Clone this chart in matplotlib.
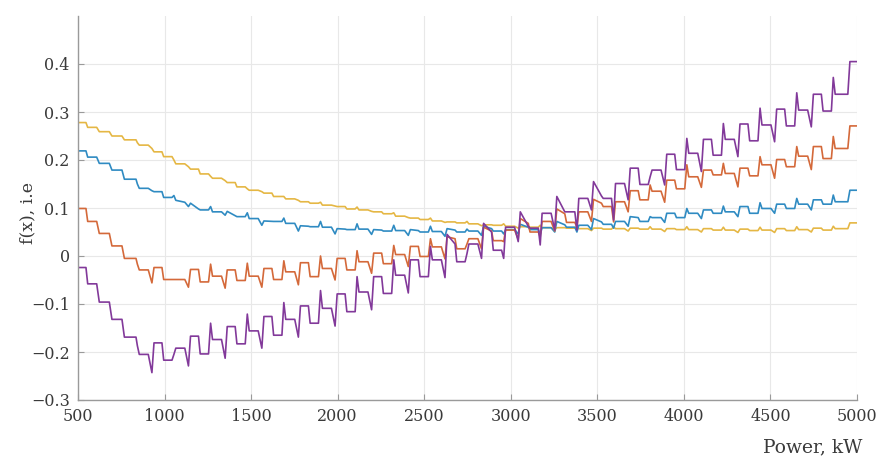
import matplotlib
matplotlib.use('Agg')
import matplotlib.pyplot as plt

plt.rcParams['font.family'] = 'DejaVu Serif'
plt.rcParams['axes.unicode_minus'] = True

# shared break points of the staircase curves (kW)
power_kw = [
    500, 546, 556, 608, 623, 681, 696, 754, 768, 835,
    843, 854, 906, 927, 939, 985, 995, 1043,
    1054, 1065, 1117, 1138, 1150, 1196, 1206, 1254,
    1266, 1277, 1329, 1350, 1362, 1408, 1418, 1466,
    1478, 1489, 1541, 1562, 1574, 1620, 1630, 1678,
    1689, 1700, 1752, 1773, 1785, 1831, 1841, 1889,
    1901, 1912, 1964, 1985, 1997, 2043, 2053, 2101,
    2112, 2123, 2175, 2196, 2208, 2254, 2264, 2312,
    2324, 2335, 2387, 2408, 2420, 2466, 2476, 2524,
    2536, 2547, 2599, 2620, 2632, 2678, 2688, 2736,
    2747, 2758, 2810, 2831, 2843, 2889, 2899, 2947,
    2959, 2970, 3022, 3043, 3055, 3101, 3111, 3159,
    3170, 3181, 3233, 3254, 3266, 3312, 3322, 3370,
    3382, 3393, 3445, 3466, 3478, 3524, 3534, 3582,
    3594, 3605, 3657, 3678, 3690, 3736, 3746, 3794,
    3805, 3816, 3868, 3889, 3901, 3947, 3957, 4005,
    4017, 4028, 4080, 4101, 4113, 4159, 4169, 4217,
    4228, 4239, 4291, 4312, 4324, 4370, 4380, 4428,
    4440, 4451, 4503, 4524, 4536, 4582, 4592, 4640,
    4652, 4663, 4715, 4736, 4748, 4794, 4804, 4852,
    4863, 4874, 4926, 4947, 4959, 5000,
]

fx_yellow = [
    0.278, 0.278, 0.268, 0.268, 0.259, 0.259, 0.250, 0.250, 0.242, 0.242,
    0.236, 0.231, 0.231, 0.224, 0.217, 0.217, 0.207, 0.207,
    0.200, 0.192, 0.192, 0.186, 0.181, 0.181, 0.171, 0.171,
    0.166, 0.162, 0.162, 0.157, 0.153, 0.153, 0.144, 0.144,
    0.140, 0.137, 0.137, 0.134, 0.131, 0.131, 0.124, 0.124,
    0.124, 0.119, 0.119, 0.116, 0.113, 0.113, 0.110, 0.110,
    0.112, 0.106, 0.106, 0.104, 0.103, 0.103, 0.098, 0.098,
    0.102, 0.096, 0.096, 0.093, 0.092, 0.092, 0.088, 0.088,
    0.090, 0.083, 0.083, 0.080, 0.079, 0.079, 0.076, 0.076,
    0.079, 0.073, 0.073, 0.070, 0.071, 0.071, 0.069, 0.069,
    0.072, 0.067, 0.067, 0.063, 0.065, 0.065, 0.064, 0.064,
    0.067, 0.062, 0.062, 0.058, 0.061, 0.061, 0.060, 0.060,
    0.064, 0.059, 0.059, 0.055, 0.059, 0.059, 0.058, 0.058,
    0.062, 0.057, 0.057, 0.053, 0.058, 0.058, 0.056, 0.056,
    0.061, 0.057, 0.057, 0.052, 0.058, 0.058, 0.056, 0.056,
    0.061, 0.056, 0.056, 0.051, 0.057, 0.057, 0.055, 0.055,
    0.061, 0.055, 0.055, 0.050, 0.057, 0.057, 0.054, 0.054,
    0.060, 0.054, 0.054, 0.049, 0.056, 0.056, 0.053, 0.053,
    0.060, 0.054, 0.054, 0.049, 0.057, 0.057, 0.053, 0.053,
    0.061, 0.055, 0.055, 0.050, 0.058, 0.058, 0.054, 0.054,
    0.062, 0.057, 0.057, 0.057, 0.069, 0.069,
]

fx_blue = [
    0.219, 0.219, 0.206, 0.206, 0.193, 0.193, 0.179, 0.179, 0.160, 0.160,
    0.150, 0.141, 0.141, 0.136, 0.134, 0.134, 0.122, 0.122,
    0.126, 0.116, 0.112, 0.103, 0.110, 0.098, 0.096, 0.096,
    0.103, 0.092, 0.092, 0.085, 0.093, 0.084, 0.082, 0.082,
    0.090, 0.078, 0.078, 0.064, 0.073, 0.072, 0.072, 0.072,
    0.079, 0.068, 0.068, 0.052, 0.063, 0.062, 0.061, 0.061,
    0.072, 0.060, 0.060, 0.046, 0.057, 0.056, 0.055, 0.055,
    0.067, 0.056, 0.056, 0.045, 0.055, 0.054, 0.052, 0.052,
    0.064, 0.053, 0.053, 0.043, 0.055, 0.053, 0.050, 0.050,
    0.062, 0.051, 0.051, 0.041, 0.057, 0.054, 0.050, 0.050,
    0.056, 0.052, 0.052, 0.043, 0.062, 0.057, 0.052, 0.052,
    0.046, 0.055, 0.055, 0.046, 0.066, 0.060, 0.055, 0.055,
    0.045, 0.059, 0.059, 0.050, 0.072, 0.065, 0.060, 0.060,
    0.050, 0.064, 0.064, 0.055, 0.078, 0.071, 0.066, 0.066,
    0.058, 0.072, 0.072, 0.062, 0.082, 0.080, 0.072, 0.072,
    0.082, 0.080, 0.080, 0.070, 0.089, 0.089, 0.080, 0.080,
    0.099, 0.089, 0.089, 0.078, 0.096, 0.096, 0.089, 0.089,
    0.104, 0.092, 0.092, 0.082, 0.103, 0.103, 0.089, 0.089,
    0.111, 0.099, 0.099, 0.089, 0.108, 0.108, 0.099, 0.099,
    0.120, 0.108, 0.108, 0.096, 0.117, 0.117, 0.108, 0.108,
    0.127, 0.113, 0.113, 0.113, 0.137, 0.137,
]

fx_orange = [
    0.099, 0.099, 0.072, 0.072, 0.047, 0.047, 0.021, 0.021, -0.005, -0.005,
    -0.017, -0.029, -0.029, -0.056, -0.024, -0.024, -0.049, -0.049,
    -0.049, -0.049, -0.049, -0.065, -0.028, -0.028, -0.054, -0.054,
    -0.017, -0.042, -0.042, -0.067, -0.029, -0.029, -0.051, -0.051,
    -0.015, -0.042, -0.042, -0.065, -0.026, -0.026, -0.049, -0.049,
    -0.010, -0.033, -0.033, -0.060, -0.014, -0.014, -0.043, -0.043,
    0.000, -0.026, -0.026, -0.050, -0.005, -0.005, -0.029, -0.029,
    0.011, -0.012, -0.012, -0.036, 0.006, 0.006, -0.016, -0.016,
    0.022, 0.003, 0.003, -0.022, 0.020, 0.020, -0.001, -0.001,
    0.036, 0.019, 0.019, -0.006, 0.040, 0.036, 0.015, 0.015,
    0.025, 0.036, 0.036, 0.015, 0.060, 0.052, 0.032, 0.032,
    0.030, 0.054, 0.054, 0.035, 0.078, 0.068, 0.050, 0.050,
    0.040, 0.072, 0.072, 0.052, 0.098, 0.088, 0.070, 0.070,
    0.060, 0.092, 0.092, 0.072, 0.118, 0.110, 0.103, 0.103,
    0.071, 0.113, 0.113, 0.092, 0.136, 0.136, 0.117, 0.117,
    0.148, 0.135, 0.135, 0.112, 0.158, 0.158, 0.140, 0.140,
    0.190, 0.165, 0.165, 0.143, 0.179, 0.179, 0.169, 0.169,
    0.193, 0.172, 0.172, 0.144, 0.183, 0.183, 0.167, 0.167,
    0.207, 0.190, 0.190, 0.162, 0.201, 0.201, 0.186, 0.186,
    0.228, 0.208, 0.208, 0.180, 0.228, 0.228, 0.203, 0.203,
    0.249, 0.224, 0.224, 0.224, 0.271, 0.271,
]

fx_purple = [
    -0.024, -0.024, -0.058, -0.058, -0.096, -0.096, -0.132, -0.132, -0.169, -0.169,
    -0.187, -0.205, -0.205, -0.243, -0.181, -0.181, -0.217, -0.217,
    -0.205, -0.192, -0.192, -0.229, -0.167, -0.167, -0.204, -0.204,
    -0.140, -0.174, -0.174, -0.213, -0.147, -0.147, -0.183, -0.183,
    -0.121, -0.156, -0.156, -0.192, -0.126, -0.126, -0.165, -0.165,
    -0.097, -0.132, -0.132, -0.169, -0.104, -0.104, -0.140, -0.140,
    -0.072, -0.109, -0.109, -0.146, -0.079, -0.079, -0.116, -0.116,
    -0.043, -0.075, -0.075, -0.112, -0.043, -0.043, -0.078, -0.078,
    -0.008, -0.040, -0.040, -0.077, -0.008, -0.008, -0.043, -0.043,
    0.020, -0.008, -0.008, -0.045, 0.045, 0.025, -0.012, -0.012,
    0.005, 0.025, 0.025, -0.005, 0.068, 0.050, 0.012, 0.012,
    -0.005, 0.060, 0.060, 0.030, 0.092, 0.062, 0.058, 0.058,
    0.023, 0.089, 0.089, 0.054, 0.124, 0.092, 0.092, 0.092,
    0.054, 0.120, 0.120, 0.096, 0.155, 0.125, 0.120, 0.120,
    0.075, 0.151, 0.151, 0.117, 0.183, 0.183, 0.149, 0.149,
    0.165, 0.179, 0.179, 0.148, 0.212, 0.212, 0.180, 0.180,
    0.245, 0.214, 0.214, 0.176, 0.243, 0.243, 0.210, 0.210,
    0.276, 0.243, 0.243, 0.207, 0.275, 0.275, 0.240, 0.240,
    0.308, 0.273, 0.273, 0.238, 0.306, 0.306, 0.271, 0.271,
    0.340, 0.304, 0.304, 0.269, 0.337, 0.337, 0.302, 0.302,
    0.372, 0.337, 0.337, 0.337, 0.405, 0.405,
]

x_ticks = [500, 1000, 1500, 2000, 2500, 3000, 3500, 4000, 4500, 5000]
y_ticks = [-0.3, -0.2, -0.1, 0, 0.1, 0.2, 0.3, 0.4]
y_tick_labels = ['\u22120.3', '\u22120.2', '\u22120.1', '0', '0.1', '0.2', '0.3', '0.4']

fig = plt.figure(figsize=(8.78, 4.61), dpi=100)
ax = fig.add_axes([78 / 878, 1 - 400 / 461, 779 / 878, 384 / 461])

ax.plot(power_kw, fx_yellow, color='#E5B744', lw=1.2)
ax.plot(power_kw, fx_blue, color='#2F8BC2', lw=1.2)
ax.plot(power_kw, fx_orange, color='#D4693A', lw=1.2)
ax.plot(power_kw, fx_purple, color='#82399A', lw=1.2)

ax.set_xlim(500, 5000)
ax.set_ylim(-0.3, 0.5)
ax.set_xticks(x_ticks)
ax.set_yticks(y_ticks)
ax.set_yticklabels(y_tick_labels)
ax.grid(True, color='#e8e8e8', lw=0.8)
ax.set_axisbelow(True)

for side in ['top', 'right']:
    ax.spines[side].set_visible(False)
for side in ['left', 'bottom']:
    ax.spines[side].set_color('#9a9a9a')
    ax.spines[side].set_linewidth(1.0)

ax.tick_params(direction='in', length=4, color='#9a9a9a', labelsize=11.5,
               labelcolor='#3a3a3a', pad=6)

fig.text(28 / 878, 1 - 213 / 461, 'f(x), i.e', rotation=90, ha='center',
         va='center', fontsize=12.5, color='#3a3a3a')
fig.text(862 / 878, 1 - 447 / 461, 'Power, kW', ha='right', va='center',
         fontsize=13.5, color='#3a3a3a')

fig.savefig('out.png', dpi=100)
